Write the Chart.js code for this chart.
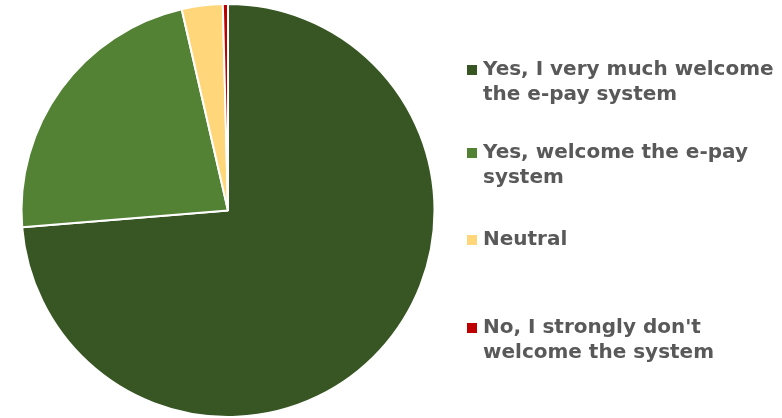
<!DOCTYPE html>
<html>
<head>
<meta charset="utf-8">
<script src="https://cdn.jsdelivr.net/npm/chart.js@4/dist/chart.umd.min.js"></script>
<style>
  html, body { margin: 0; padding: 0; background: #fff; }
  #wrap { width: 782px; height: 418px; position: relative; }
</style>
</head>
<body>
<div id="wrap"><canvas id="epay_pie"></canvas></div>
<script>
// 응답 항목
const labels = [
  ['Yes, I very much welcome', 'the e-pay system'],
  ['Yes, welcome the e-pay', 'system'],
  ['Neutral'],
  ["No, I strongly don't", 'welcome the system']
];
const values = [73.7, 22.7, 3.2, 0.4]; // 비율(%)
const colors = ['#375623', '#548235', '#FFD67A', '#C00000'];

// 범례 위치 (오른쪽 세로 배치)
const legendTops = [70, 153, 240, 328];

const sideLegend = {
  id: 'sideLegend',
  afterDraw(chart) {
    const ctx = chart.ctx;
    ctx.save();
    ctx.font = 'bold 20px "DejaVu Sans"';
    ctx.textBaseline = 'middle';
    chart.data.labels.forEach((lines, i) => {
      const y = legendTops[i];
      ctx.fillStyle = colors[i];
      ctx.fillRect(467, y - 5, 10, 10);
      ctx.fillStyle = '#595959';
      lines.forEach((t, j) => ctx.fillText(t, 483, y + j * 25));
    });
    ctx.restore();
  }
};

new Chart(document.getElementById('epay_pie'), {
  type: 'pie',
  data: {
    labels: labels,
    datasets: [{
      data: values,
      backgroundColor: colors,
      borderColor: '#ffffff',
      borderWidth: 2
    }]
  },
  options: {
    responsive: true,
    maintainAspectRatio: false,
    animation: false,
    layout: { padding: { left: 20, right: 346, top: 3, bottom: 0 } },
    plugins: {
      legend: { display: false },
      tooltip: { enabled: false }
    }
  },
  plugins: [sideLegend]
});
</script>
</body>
</html>
